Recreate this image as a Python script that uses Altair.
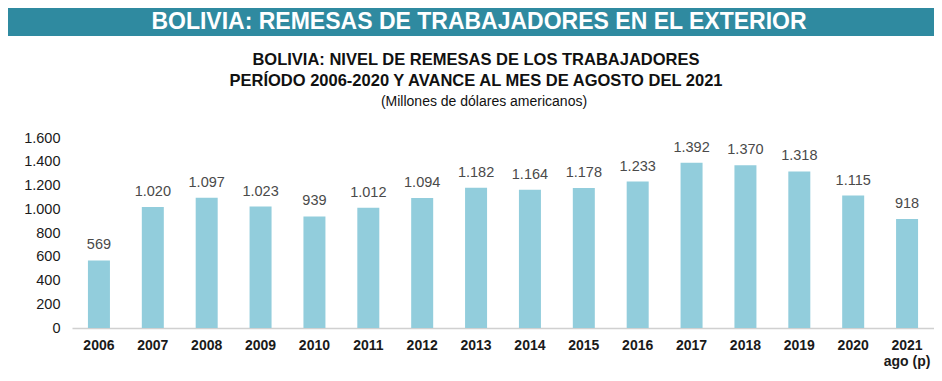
import altair as alt
import pandas as pd

years = ["2006", "2007", "2008", "2009", "2010", "2011", "2012", "2013",
         "2014", "2015", "2016", "2017", "2018", "2019", "2020", "2021"]
values = [569, 1020, 1097, 1023, 939, 1012, 1094, 1182,
          1164, 1178, 1233, 1392, 1370, 1318, 1115, 918]
y_ticks = [0, 200, 400, 600, 800, 1000, 1200, 1400, 1600]

header = "BOLIVIA: REMESAS DE TRABAJADORES EN EL EXTERIOR"
title1 = "BOLIVIA: NIVEL DE REMESAS DE LOS TRABAJADORES"
title2 = "PERÍODO 2006-2020 Y AVANCE AL MES DE AGOSTO DEL 2021"
subtitle = "(Millones de dólares americanos)"

df = pd.DataFrame({"year": years, "value": values})
one = pd.DataFrame({"k": [0]})

W, H = 862, 190
NARROW = "Liberation Sans Narrow, Arial Narrow, Liberation Sans, Arial, sans-serif"
REG = "Liberation Sans, Arial, sans-serif"

x = alt.X("year:N", sort=years, title=None,
          scale=alt.Scale(paddingInner=0.6, paddingOuter=0.3),
          axis=alt.Axis(labelAngle=0, labelFont=NARROW, labelFontWeight="bold",
                        labelFontSize=14, labelColor="#1a1a1a", labelPadding=10,
                        ticks=False, domainColor="#d0d0d0", domainWidth=1.5,
                        labelExpr="datum.value == '2021' ? ['2021', 'ago (p)'] : datum.value"))
y = alt.Y("value:Q", title=None,
          scale=alt.Scale(domain=[0, 1600]),
          axis=alt.Axis(values=y_ticks, format=",d", grid=False,
                        ticks=False, domain=False, labelFont=REG, labelFontSize=14.5,
                        labelColor="#1a1a1a", labelPadding=12, labelOverlap=False,
                        labelBound=False))

bars = alt.Chart(df).mark_bar(color="#92cddc", size=22).encode(x=x, y=y)
labels = alt.Chart(df).mark_text(dy=-8, baseline="bottom", font=REG, fontSize=14.5,
                                 color="#4a4a4a").encode(
    x=x, y=y, text=alt.Text("value:Q", format=",d"))

band = alt.Chart(one).mark_rect(color="#2f8aa0").encode(
    x=alt.value(-64), x2=alt.value(W + 10), y=alt.value(-130), y2=alt.value(-102))

def txt(s, xv, yv, size, weight, color, font):
    return alt.Chart(one).mark_text(fontSize=size, fontWeight=weight, color=color,
                                    font=font, baseline="middle", align="center").encode(
        x=alt.value(xv), y=alt.value(yv), text=alt.value(s))

t0 = txt(header, 407, -116, 23, "bold", "white", NARROW)
t1 = txt(title1, 404, -78, 16.5, "bold", "#111111", NARROW)
t2 = txt(title2, 404, -57, 16.5, "bold", "#111111", NARROW)
t3 = txt(subtitle, 412, -36, 14, "normal", "#111111", REG)

chart = alt.layer(bars, labels, band, t0, t1, t2, t3).properties(
    width=W, height=H,
    autosize=alt.AutoSizeParams(type="none"),
    padding={"left": 64, "top": 130, "right": 0, "bottom": 45},
).configure(
    locale={"number": {"decimal": ",", "thousands": ".", "grouping": [3], "currency": ["", ""]}}
).configure_view(stroke=None).configure_axisY(labelOverlap=False)

chart.save("out.html", embed_options={"renderer": "svg", "actions": False})
